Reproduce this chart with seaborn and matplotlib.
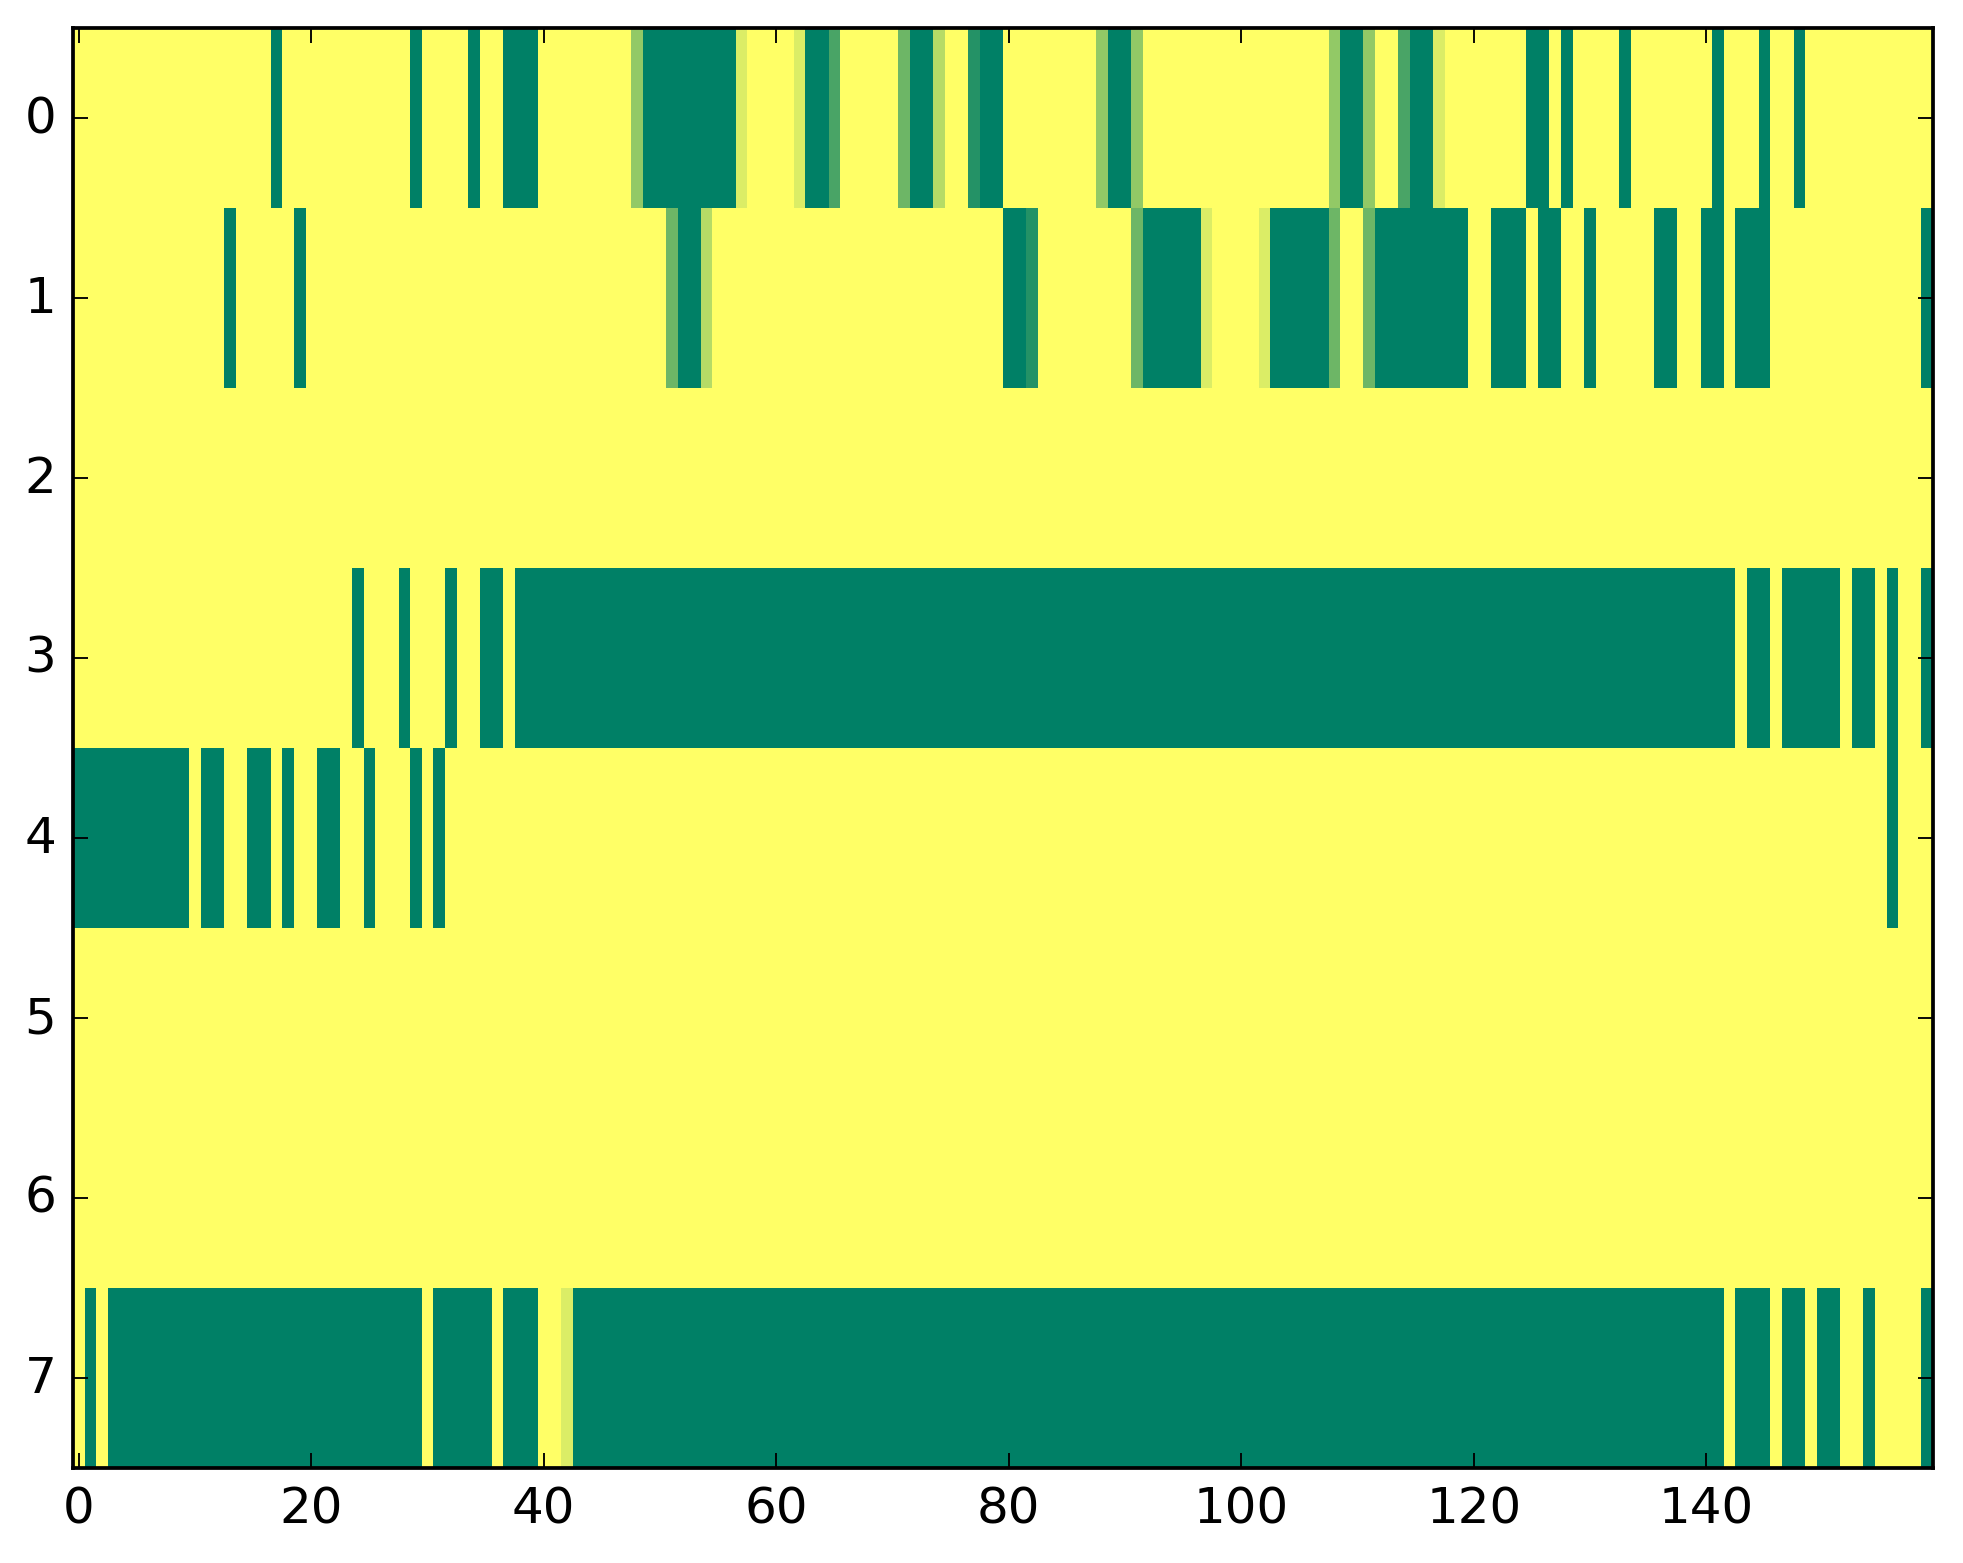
import numpy as np
import matplotlib
matplotlib.use('Agg')
import matplotlib.pyplot as plt
import seaborn as sns

# one string per row, one digit per column (160 columns), digit k means k/7
# groups of 10 columns are separated by spaces
row0 = ("7777777777 7777777077 7777777770 7777077000 7777777740 "
        "0000000677 7760027777 7300577100 7777777740 0477777777 "
        "7777777740 0477200677 7777700707 7770777777 7077707707 "
        "7777777777")
row1 = ("7777777777 7770777770 7777777777 7777777777 7777777777 "
        "7300577777 7777777777 7777777777 0017777777 7300000677 "
        "7760000037 7300000000 7700070077 0777770077 0070007777 "
        "7777777770")
row2 = " ".join(["7777777777"] * 16)
row3 = ("7777777777 7777777777 7777077707 7707700700 " +
        " ".join(["0000000000"] * 10) +
        " 0007007000 0070070770")
row4 = ("0000000000 7007700707 7007707770 7077777777 " +
        " ".join(["7777777777"] * 11) +
        " 7777770777")
row5 = " ".join(["7777777777"] * 16)
row6 = " ".join(["7777777777"] * 16)
row7 = ("7070000000 0000000000 0000000000 7000007000 7760000000 " +
        " ".join(["0000000000"] * 9) +
        " 0070007007 0077077770")

rows = [row0, row1, row2, row3, row4, row5, row6, row7]
x_ticks = [0, 20, 40, 60, 80, 100, 120, 140]
y_ticks = [0, 1, 2, 3, 4, 5, 6, 7]

grid = np.array([[int(c) for c in r.replace(' ', '')] for r in rows]) / 7.0
assert grid.shape == (8, 160)

plt.style.use('classic')
W, H, DPI = 1963, 1564, 300
fig = plt.figure(figsize=(W / DPI, H / DPI), dpi=DPI, facecolor='white')
# axes box in pixels: left 73, top 29, right 1933, bottom 1469
ax = fig.add_axes([73 / W, 1 - 1469 / H, 1860 / W, 1440 / H])

sns.heatmap(grid, cmap='summer', vmin=0, vmax=1, cbar=False, ax=ax)

for s in ax.spines.values():
    s.set_visible(True)
    s.set_linewidth(0.9)
    s.set_color('black')

ax.set_xticks(np.array(x_ticks) + 0.5)
ax.set_xticklabels([str(t) for t in x_ticks], rotation=0)
ax.set_yticks(np.array(y_ticks) + 0.5)
ax.set_yticklabels([str(t) for t in y_ticks], rotation=0)
ax.tick_params(direction='in', top=True, right=True, length=3.6, width=0.45,
               labelsize=12, pad=4, colors='black')

fig.savefig('out.png', dpi=DPI, facecolor='white')
